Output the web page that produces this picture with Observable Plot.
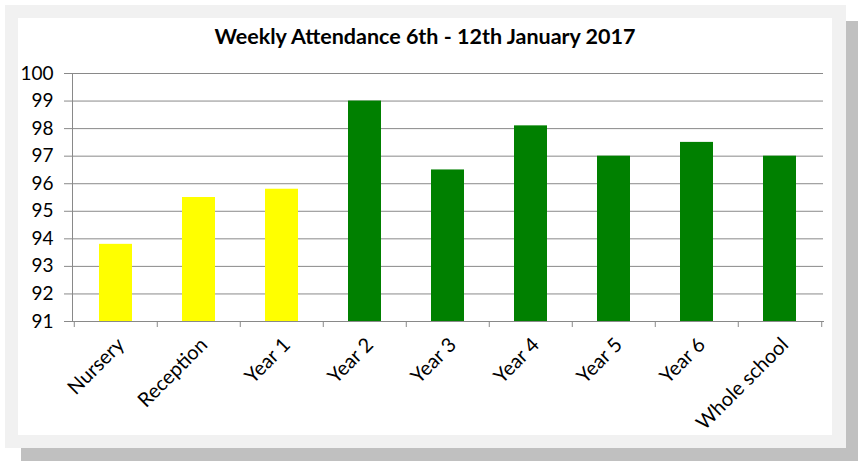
<!DOCTYPE html>
<html>
<head>
<meta charset="utf-8">
<script src="https://cdn.jsdelivr.net/npm/d3@7"></script>
<script src="https://cdn.jsdelivr.net/npm/@observablehq/plot@0.6"></script>
<style>
  html, body { margin: 0; padding: 0; background: #ffffff; }
  #wrap { position: relative; width: 858px; height: 461px; overflow: hidden; font-family: Lato, "Liberation Sans", sans-serif; }
  #shadow { position: absolute; left: 21px; top: 21px; width: 837px; height: 440px; background: #c0c0c0; }
  #frame { position: absolute; left: 5px; top: 5px; width: 841px; height: 443px; background: #f1f1f1; }
  #card { position: absolute; left: 18px; top: 18px; width: 814px; height: 417px; background: #ffffff; }
  #title { position: absolute; left: 18px; width: 814px; top: 23px; text-align: center; font-weight: bold; font-size: 21.5px; color: #000; }
  #chart { position: absolute; left: 0; top: 0; }
</style>
</head>
<body>
<div id="wrap">
  <div id="shadow"></div>
  <div id="frame"></div>
  <div id="card"></div>
  <div id="title">Weekly Attendance 6th - 12th January 2017</div>
  <div id="chart"></div>
</div>
<script>
const categories = ["Nursery", "Reception", "Year 1", "Year 2", "Year 3", "Year 4", "Year 5", "Year 6", "Whole school"];
const attendance = [93.8, 95.5, 95.8, 99.0, 96.5, 98.1, 97.0, 97.5, 97.0];
const groups = ["early", "early", "early", "main", "main", "main", "main", "main", "main"];
const yTicks = [91, 92, 93, 94, 95, 96, 97, 98, 99, 100];

const data = categories.map((c, i) => ({category: c, value: attendance[i], group: groups[i]}));

const W = 858, H = 461, ML = 72, MR = 35, MT = 73, MB = 140;
const step = (W - ML - MR) / categories.length;
const grey = "#898989";

const chart = Plot.plot({
  width: W,
  height: H,
  marginLeft: ML,
  marginRight: MR,
  marginTop: MT,
  marginBottom: MB,
  style: {background: "transparent", fontFamily: "Lato, 'Liberation Sans', sans-serif", color: "#000"},
  x: {domain: categories, paddingInner: 0.6, paddingOuter: 0.3, label: null},
  y: {domain: [91, 100], label: null},
  color: {domain: ["early", "main"], range: ["#ffff00", "#008000"]},
  marks: [
    Plot.gridY(yTicks, {stroke: grey, strokeOpacity: 1, strokeWidth: 1}),
    Plot.axisY(yTicks, {tickSize: 8, tickPadding: 11, stroke: grey, strokeOpacity: 1, fontSize: 19, fill: "#000", label: null}),
    Plot.barY(data, {x: "category", y1: 91, y2: "value", fill: "group"}),
    Plot.frame({anchor: "left", stroke: grey}),
    Plot.frame({anchor: "bottom", stroke: grey}),
    Plot.axisX({tickSize: 6, stroke: grey, strokeOpacity: 1, dx: -step / 2, tickFormat: () => "", label: null}),
    Plot.axisX([categories[categories.length - 1]], {tickSize: 6, stroke: grey, strokeOpacity: 1, dx: step / 2, tickFormat: () => "", label: null}),
    Plot.axisX({tickSize: 0, tickRotate: -45, tickPadding: 20, dx: 5, fontSize: 20, fill: "#000", label: null})
  ]
});
document.getElementById("chart").appendChild(chart);
</script>
</body>
</html>
